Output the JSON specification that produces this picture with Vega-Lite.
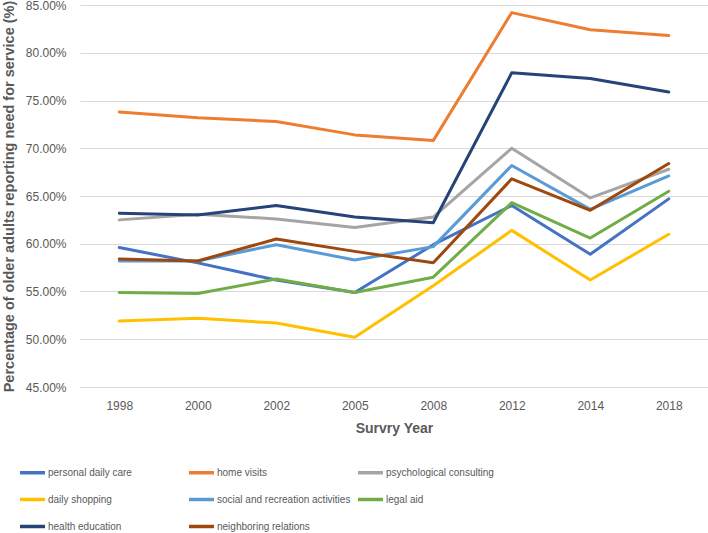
{
  "$schema": "https://vega.github.io/schema/vega-lite/v6.json",
  "autosize": "none",
  "width": 628,
  "height": 382,
  "padding": {"left": 80, "top": 5, "right": 0, "bottom": 146},
  "background": "white",
  "config": {
    "view": {"stroke": null},
    "font": "Liberation Sans",
    "axis": {"labelColor": "#595959", "titleColor": "#595959", "labelFont": "Liberation Sans", "titleFont": "Liberation Sans"}
  },
  "data": {
    "values": [
      {"service": "personal daily care", "year": "1998", "value": 0.596},
      {"service": "personal daily care", "year": "2000", "value": 0.580},
      {"service": "personal daily care", "year": "2002", "value": 0.562},
      {"service": "personal daily care", "year": "2005", "value": 0.549},
      {"service": "personal daily care", "year": "2008", "value": 0.599},
      {"service": "personal daily care", "year": "2012", "value": 0.640},
      {"service": "personal daily care", "year": "2014", "value": 0.589},
      {"service": "personal daily care", "year": "2018", "value": 0.647},
      {"service": "home visits", "year": "1998", "value": 0.738},
      {"service": "home visits", "year": "2000", "value": 0.732},
      {"service": "home visits", "year": "2002", "value": 0.728},
      {"service": "home visits", "year": "2005", "value": 0.714},
      {"service": "home visits", "year": "2008", "value": 0.708},
      {"service": "home visits", "year": "2012", "value": 0.842},
      {"service": "home visits", "year": "2014", "value": 0.824},
      {"service": "home visits", "year": "2018", "value": 0.818},
      {"service": "psychological consulting", "year": "1998", "value": 0.625},
      {"service": "psychological consulting", "year": "2000", "value": 0.631},
      {"service": "psychological consulting", "year": "2002", "value": 0.626},
      {"service": "psychological consulting", "year": "2005", "value": 0.617},
      {"service": "psychological consulting", "year": "2008", "value": 0.628},
      {"service": "psychological consulting", "year": "2012", "value": 0.700},
      {"service": "psychological consulting", "year": "2014", "value": 0.648},
      {"service": "psychological consulting", "year": "2018", "value": 0.678},
      {"service": "daily shopping", "year": "1998", "value": 0.519},
      {"service": "daily shopping", "year": "2000", "value": 0.522},
      {"service": "daily shopping", "year": "2002", "value": 0.517},
      {"service": "daily shopping", "year": "2005", "value": 0.502},
      {"service": "daily shopping", "year": "2008", "value": 0.556},
      {"service": "daily shopping", "year": "2012", "value": 0.614},
      {"service": "daily shopping", "year": "2014", "value": 0.562},
      {"service": "daily shopping", "year": "2018", "value": 0.610},
      {"service": "social and recreation activities", "year": "1998", "value": 0.582},
      {"service": "social and recreation activities", "year": "2000", "value": 0.582},
      {"service": "social and recreation activities", "year": "2002", "value": 0.599},
      {"service": "social and recreation activities", "year": "2005", "value": 0.583},
      {"service": "social and recreation activities", "year": "2008", "value": 0.597},
      {"service": "social and recreation activities", "year": "2012", "value": 0.682},
      {"service": "social and recreation activities", "year": "2014", "value": 0.636},
      {"service": "social and recreation activities", "year": "2018", "value": 0.671},
      {"service": "legal aid", "year": "1998", "value": 0.549},
      {"service": "legal aid", "year": "2000", "value": 0.548},
      {"service": "legal aid", "year": "2002", "value": 0.563},
      {"service": "legal aid", "year": "2005", "value": 0.549},
      {"service": "legal aid", "year": "2008", "value": 0.565},
      {"service": "legal aid", "year": "2012", "value": 0.643},
      {"service": "legal aid", "year": "2014", "value": 0.606},
      {"service": "legal aid", "year": "2018", "value": 0.655},
      {"service": "health education", "year": "1998", "value": 0.632},
      {"service": "health education", "year": "2000", "value": 0.630},
      {"service": "health education", "year": "2002", "value": 0.640},
      {"service": "health education", "year": "2005", "value": 0.628},
      {"service": "health education", "year": "2008", "value": 0.622},
      {"service": "health education", "year": "2012", "value": 0.779},
      {"service": "health education", "year": "2014", "value": 0.773},
      {"service": "health education", "year": "2018", "value": 0.759},
      {"service": "neighboring relations", "year": "1998", "value": 0.584},
      {"service": "neighboring relations", "year": "2000", "value": 0.582},
      {"service": "neighboring relations", "year": "2002", "value": 0.605},
      {"service": "neighboring relations", "year": "2005", "value": 0.592},
      {"service": "neighboring relations", "year": "2008", "value": 0.580},
      {"service": "neighboring relations", "year": "2012", "value": 0.668},
      {"service": "neighboring relations", "year": "2014", "value": 0.635},
      {"service": "neighboring relations", "year": "2018", "value": 0.684}
    ]
  },
  "mark": {"type": "line", "strokeWidth": 3, "strokeCap": "round", "strokeJoin": "round"},
  "encoding": {
    "x": {
      "field": "year", "type": "ordinal", "sort": null,
      "scale": {"type": "point", "padding": 0.5},
      "axis": {"title": "Survry Year", "titleFontSize": 14, "titleFontWeight": "bold", "titlePadding": 10,
               "labelAngle": 0, "labelFontSize": 12, "labelPadding": 13, "ticks": false, "domain": false, "grid": false}
    },
    "y": {
      "field": "value", "type": "quantitative",
      "scale": {"domain": [0.45, 0.85], "nice": false, "zero": false},
      "axis": {"title": "Percentage of older adults reporting need for service (%)", "titleFontSize": 14.5, "titleFontWeight": "bold",
               "format": ".2%", "values": [0.45, 0.5, 0.55, 0.6, 0.65, 0.7, 0.75, 0.8, 0.85], "labelFontSize": 12, "labelPadding": 14,
               "ticks": false, "domain": false, "gridColor": "#D9D9D9", "gridWidth": 1.2, "titlePadding": 9}
    },
    "color": {
      "field": "service", "type": "nominal",
      "scale": {
        "domain": ["personal daily care", "home visits", "psychological consulting", "daily shopping", "social and recreation activities", "legal aid", "health education", "neighboring relations"],
        "range": ["#4472C4", "#ED7D31", "#A5A5A5", "#FFC000", "#5B9BD5", "#70AD47", "#264478", "#9E480E"]
      },
      "legend": {
        "title": null, "orient": "none", "legendX": -62, "legendY": 453, "direction": "horizontal", "columns": 3,
        "gridAlign": "all", "columnPadding": 0, "rowPadding": 5,
        "symbolType": "stroke", "symbolSize": 625, "symbolStrokeWidth": 3.5,
        "labelFontSize": 10, "labelColor": "#595959", "labelOffset": 1, "labelLimit": 300
      }
    }
  }
}
